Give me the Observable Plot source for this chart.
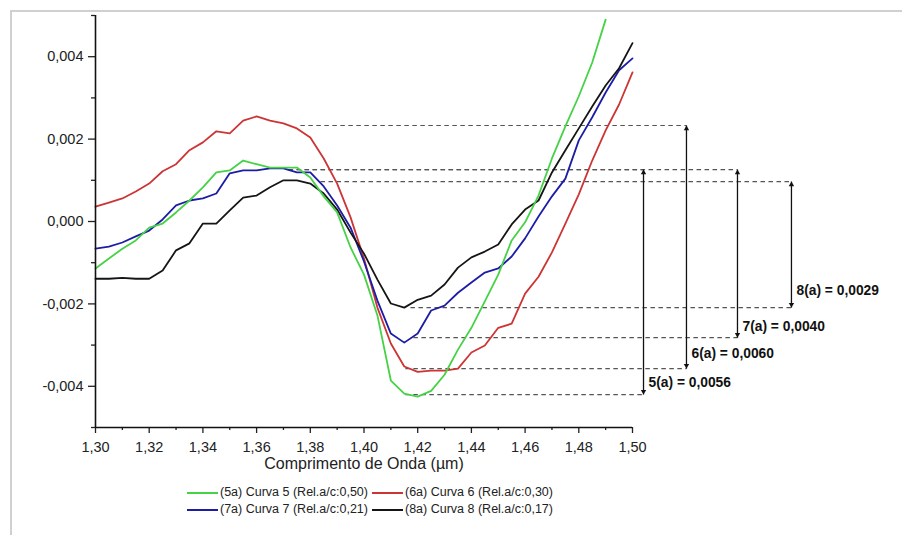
<!DOCTYPE html>
<html><head><meta charset="utf-8">
<script src="https://cdn.jsdelivr.net/npm/d3@7"></script>
<script src="https://cdn.jsdelivr.net/npm/@observablehq/plot@0.6"></script>
<style>
body{margin:0;background:#fff;font-family:"Liberation Sans",Arial,sans-serif;}
#wrap{position:relative;width:902px;height:535px;overflow:hidden;background:#fff}
#frame{position:absolute;left:10px;top:10px;width:900px;height:530px;border-top:2px solid #d0d0d0;border-left:2px solid #d0d0d0;box-sizing:border-box;pointer-events:none}
#chart{position:absolute;left:0;top:0}
#legend{position:absolute;left:187px;top:484px;display:grid;grid-template-columns:185px auto;row-gap:0px;font-size:12.5px;color:#222;line-height:17px}
#legend .it{display:flex;align-items:center;white-space:nowrap}
#legend .sw{display:inline-block;width:31px;height:2px;margin-right:2px}
</style>
</head><body>
<div id="wrap"><div id="chart"></div><div id="legend"></div><div id="frame"></div></div>
<script>
// wavelength (µm)
const wavelengths = [1.300,1.305,1.310,1.315,1.320,1.325,1.330,1.335,1.340,1.345,1.350,1.355,1.360,1.365,1.370,1.375,1.380,1.385,1.390,1.395,1.400,1.405,1.410,1.415,1.420,1.425,1.430,1.435,1.440,1.445,1.450,1.455,1.460,1.465,1.470,1.475,1.480,1.485,1.490,1.495,1.500];
const curve5 = [-0.00114,-0.00090,-0.00066,-0.00046,-0.00015,-0.00005,0.00022,0.00051,0.00083,0.00119,0.00124,0.00148,0.00139,0.00131,0.00131,0.00131,0.00107,0.00061,0.00022,-0.00063,-0.00129,-0.00228,-0.00386,-0.00418,-0.00425,-0.00411,-0.00372,-0.00311,-0.00258,-0.00194,-0.00129,-0.00046,-0.00002,0.00063,0.00153,0.00231,0.00304,0.00386,0.00490];
const curve6 = [0.00036,0.00046,0.00056,0.00073,0.00092,0.00122,0.00139,0.00173,0.00192,0.00219,0.00214,0.00245,0.00255,0.00245,0.00238,0.00226,0.00204,0.00153,0.00092,0.00010,-0.00090,-0.00209,-0.00296,-0.00352,-0.00365,-0.00362,-0.00362,-0.00357,-0.00318,-0.00301,-0.00258,-0.00248,-0.00175,-0.00134,-0.00075,-0.00005,0.00066,0.00148,0.00221,0.00284,0.00362];
const curve7 = [-0.00066,-0.00061,-0.00051,-0.00036,-0.00022,0.00005,0.00039,0.00051,0.00056,0.00068,0.00117,0.00124,0.00124,0.00129,0.00129,0.00119,0.00119,0.00085,0.00039,-0.00015,-0.00097,-0.00192,-0.00272,-0.00294,-0.00272,-0.00216,-0.00204,-0.00173,-0.00148,-0.00124,-0.00114,-0.00085,-0.00041,0.00012,0.00061,0.00104,0.00197,0.00253,0.00313,0.00367,0.00396];
const curve8 = [-0.00139,-0.00139,-0.00137,-0.00139,-0.00139,-0.00119,-0.00070,-0.00053,-0.00005,-0.00005,0.00027,0.00058,0.00063,0.00083,0.00100,0.00100,0.00092,0.00068,0.00029,-0.00027,-0.00078,-0.00141,-0.00199,-0.00209,-0.00190,-0.00180,-0.00153,-0.00112,-0.00087,-0.00073,-0.00056,-0.00007,0.00029,0.00051,0.00119,0.00173,0.00226,0.00279,0.00330,0.00372,0.00433];

const seriesLabels = ["(5a) Curva 5 (Rel.a/c:0,50)","(6a) Curva 6 (Rel.a/c:0,30)","(7a) Curva 7 (Rel.a/c:0,21)","(8a) Curva 8 (Rel.a/c:0,17)"];
const seriesColors = ["#46d246","#cc3535","#1c1ca6","#151515"];
const seriesValues = [curve5, curve6, curve7, curve8];

// tick values
const xTicks = [1.30,1.32,1.34,1.36,1.38,1.40,1.42,1.44,1.46,1.48,1.50];
const xMinor = [1.31,1.33,1.35,1.37,1.39,1.41,1.43,1.45,1.47,1.49];
const yTicks = [-0.004,-0.002,0,0.002,0.004];
const yMinor = [-0.005,-0.003,-0.001,0.001,0.003,0.005];

// amplitude annotations (5a, 6a, 7a, 8a)
const annLabels = ["5(a) = 0,0056","6(a) = 0,0060","7(a) = 0,0040","8(a) = 0,0029"];
const annTop = [0.00126, 0.00233, 0.00126, 0.00097];
const annBottom = [-0.00420, -0.00357, -0.00282, -0.00209];
const annX = [1.5041, 1.5201, 1.5391, 1.5592];
const annTopStart = [1.3719, 1.3763, 1.3719, 1.3838];
const annBottomStart = [1.4154, 1.4154, 1.4184, 1.4173];
const annLabelY = [-0.00391, -0.00321, -0.00255, -0.00168];

const ann = annLabels.map((t,i)=>({t, top:annTop[i], bot:annBottom[i], x:annX[i], ts:annTopStart[i], bs:annBottomStart[i], ly:annLabelY[i]}));

const comma = (v, d) => v.toFixed(d).replace(".", ",");

const lineMarks = [1,2,3,0].map(i => {
  const pts = seriesValues[i].map((v,j)=>({w: wavelengths[j], v}));
  return Plot.line(pts, {x:"w", y:"v", stroke: seriesColors[i], strokeWidth: 1.8, curve: "linear"});
});

const chart = Plot.plot({
  width: 902, height: 480,
  marginLeft: 95, marginRight: 270, marginTop: 15, marginBottom: 53,
  x: {domain: [1.30, 1.50], axis: null, label: null},
  y: {domain: [-0.005, 0.005], axis: null, label: null},
  style: {fontFamily: "Liberation Sans, Arial, sans-serif", background: "transparent", overflow: "visible"},
  marks: [
    // dashed guide lines
    Plot.link(ann, {x1:"ts", x2:"x", y1:"top", y2:"top", stroke:"#555", strokeWidth:1.2, strokeDasharray:"4.5,3.5"}),
    Plot.link(ann, {x1:"bs", x2:"x", y1:"bot", y2:"bot", stroke:"#555", strokeWidth:1.2, strokeDasharray:"4.5,3.5"}),
    // vertical double arrows
    Plot.link(ann, {x1:"x", x2:"x", y1:"top", y2:"bot", stroke:"#111", strokeWidth:1.3}),
    Plot.dot(ann, {x:"x", y:"top", symbol:"triangle", r:2, fill:"#111", dy:3.1}),
    Plot.dot(ann, {x:"x", y:"bot", symbol:"triangle", r:2, fill:"#111", dy:-3.1, rotate:180}),
    Plot.text(ann, {x:"x", y:"ly", text:"t", textAnchor:"start", dx:5, fontSize:13.8, fontWeight:"bold", fill:"#111"}),
    ...lineMarks,
    // axes
    Plot.axisY(yTicks, {tickSize:7, tickPadding:5, tickFormat: d => comma(d,3), fontSize:14.5, color:"#222", strokeWidth:1.3, label:null}),
    Plot.axisY(yMinor, {tickSize:4, tickFormat: () => "", color:"#222", strokeWidth:1.3, label:null}),
    Plot.axisX(xTicks, {tickSize:6, tickPadding:8, tickFormat: d => comma(d,2), fontSize:14.5, color:"#222", strokeWidth:1.3, label:null}),
    Plot.axisX(xMinor, {tickSize:3, tickFormat: () => "", color:"#222", strokeWidth:1.3, label:null}),
    Plot.ruleX([1.30], {y1:-0.005, y2:0.005, stroke:"#111", strokeWidth:1.6}),
    Plot.ruleY([-0.005], {x1:1.30, x2:1.50, stroke:"#111", strokeWidth:1.6}),
    Plot.text(["Comprimento de Onda (µm)"], {frameAnchor:"bottom", dy:41, fontSize:16, fill:"#222"})
  ]
});
document.getElementById("chart").appendChild(chart);

const legend = document.getElementById("legend");
[0,1,2,3].forEach(i => {
  const d = document.createElement("div"); d.className = "it";
  const s = document.createElement("span"); s.className = "sw"; s.style.background = seriesColors[i];
  d.appendChild(s); d.appendChild(document.createTextNode(seriesLabels[i]));
  legend.appendChild(d);
});
</script>
</body></html>
